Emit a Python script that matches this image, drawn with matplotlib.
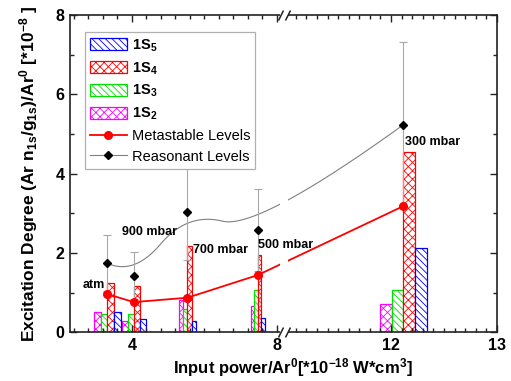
import numpy as np
import matplotlib

matplotlib.use("Agg")

import matplotlib.pyplot as plt
from matplotlib.lines import Line2D
from matplotlib.path import Path
from matplotlib.transforms import blended_transform_factory

plt.rcParams["font.family"] = ["Liberation Sans", "DejaVu Sans"]
plt.rcParams["mathtext.fontset"] = "custom"
plt.rcParams["mathtext.rm"] = "Liberation Sans"
plt.rcParams["mathtext.bf"] = "Liberation Sans:bold"
plt.rcParams["mathtext.it"] = "Liberation Sans:italic"
plt.rcParams["hatch.linewidth"] = 0.6

# values
power = [3.32, 4.055, 5.53, 7.47, 12.116]
pressure_labels = ["atm", "900 mbar", "700 mbar", "500 mbar", "300 mbar"]
s2 = [0.52, 0.28, 0.82, 0.65, 0.71]
s3 = [0.46, 0.45, 0.59, 1.07, 1.06]
s4 = [1.23, 1.17, 2.18, 1.95, 4.54]
s5 = [0.51, 0.33, 0.28, 0.35, 2.13]
metastable = [0.96, 0.76, 0.87, 1.44, 3.18]
resonant = [1.74, 1.43, 3.02, 2.58, 5.23]
resonant_err = [0.71, 0.59, 1.2, 1.03, 2.1]

# bar width of each group and where the pressure notes sit
group_widths = [0.185, 0.16, 0.12, 0.095, 0.11]
label_pos = [(2.65, 1.19), (3.72, 2.53), (5.68, 2.07), (7.48, 2.2), (12.13, 4.8)]

# broken x axis: 8.2 .. 11 squeezed out, right part stretched
BREAK_LO, BREAK_HI = 8.2, 11.0
GAP = 0.028
RIGHT_K = 2.924


def fwd(x):
    x = np.asarray(x, dtype=float)
    mid = BREAK_LO + (x - BREAK_LO) * GAP / (BREAK_HI - BREAK_LO)
    right = BREAK_LO + GAP + (x - BREAK_HI) * RIGHT_K
    return np.where(x <= BREAK_LO, x, np.where(x < BREAK_HI, mid, right))


def inv(u):
    u = np.asarray(u, dtype=float)
    mid = BREAK_LO + (u - BREAK_LO) * (BREAK_HI - BREAK_LO) / GAP
    right = BREAK_HI + (u - BREAK_LO - GAP) / RIGHT_K
    return np.where(u <= BREAK_LO, u, np.where(u < BREAK_LO + GAP, mid, right))


def bspline(px, py, n=300, deg=2):
    pts = np.column_stack([px, py])
    m = len(pts)
    knots = np.concatenate([np.zeros(deg), np.linspace(0, 1, m - deg + 1), np.ones(deg)])
    out = []
    for tv in np.linspace(0, 1, n):
        k = min(np.searchsorted(knots, tv, side="right") - 1, m - 1)
        d = [pts[j + k - deg].copy() for j in range(deg + 1)]
        for r in range(1, deg + 1):
            for j in range(deg, r - 1, -1):
                i = j + k - deg
                alpha = (tv - knots[i]) / (knots[i + deg + 1 - r] - knots[i])
                d[j] = (1 - alpha) * d[j - 1] + alpha * d[j]
        out.append(d[deg])
    return np.array(out)


fig = plt.figure(figsize=(5.11, 3.81), dpi=100)
ax = fig.add_axes([0.137, 0.128, 0.8356, 0.8328])
ax.set_xscale("function", functions=(fwd, inv))
ax.set_xlim(2.29, 13)
ax.set_ylim(0, 8)

series = [
    ("1S$_2$", s2, "#ff00ff", "xxxx"),
    ("1S$_3$", s3, "#00e000", "\\\\\\\\\\"),
    ("1S$_4$", s4, "#ff0000", "xxxx"),
    ("1S$_5$", s5, "#0000ff", "\\\\\\\\\\"),
]
bar_handles = {}
x_arr = np.array(power)
w_arr = np.array(group_widths)
for idx, (name, values, color, hatch) in enumerate(series):
    cont = ax.bar(
        x_arr + (idx - 1.5) * w_arr,
        values,
        width=w_arr,
        facecolor="white",
        edgecolor=color,
        hatch=hatch,
        linewidth=0.9,
        zorder=1,
    )
    bar_handles[name] = cont

# resonant levels: smooth B-spline through the points in axis position space
curve = bspline(fwd(power), resonant)
ax.plot(inv(curve[:, 0]), curve[:, 1], color="#808080", lw=0.8, zorder=2)
ax.errorbar(
    power, resonant, yerr=resonant_err, fmt="none",
    ecolor="#a8a8a8", elinewidth=0.8, capsize=3, capthick=0.8, zorder=2,
)
ax.plot(power, resonant, "D", color="black", ms=4.5, zorder=2.3)
ax.plot(power, metastable, "-o", color="#ff0000", lw=1.3, ms=5.5, zorder=2.3)

# white strip hides the lines where the axis is broken
gap_lo = float(inv(fwd(BREAK_LO) - 0.1))
gap_hi = float(inv(fwd(BREAK_LO) + GAP + 0.08))
ax.axvspan(gap_lo, gap_hi, color="white", lw=0, zorder=2.4)

for (tx, ty), text in zip(label_pos, pressure_labels):
    ax.text(tx, ty, text, fontsize=9, fontweight="bold", ha="left", va="center", zorder=3)

# break marks on the top and bottom spines
trans = blended_transform_factory(ax.transData, ax.transAxes)
bx = BREAK_LO + GAP / 2
blank = Path([(-4, -1.2), (4, -1.2), (4, 1.2), (-4, 1.2), (-4, -1.2)])
slashes = Path(
    [(-6, -5), (-1, 5), (1, -5), (6, 5)],
    [Path.MOVETO, Path.LINETO, Path.MOVETO, Path.LINETO],
)
ax.plot([bx, bx], [0, 1], transform=trans, ls="none", marker=blank, ms=5.8,
        mfc="white", mew=0, clip_on=False, zorder=6)
ax.plot([bx, bx], [0, 1], transform=trans, ls="none", marker=slashes, ms=8.6,
        mfc="none", mec="#222222", mew=1.1, clip_on=False, zorder=7)

ax.set_xticks([4, 8, 12, 13])
minor_left = [v for v in np.arange(2.4, 8.21, 0.4) if abs(v - 4) > 0.01 and abs(v - 8) > 0.01]
minor_right = [v for v in np.arange(11.0, 13.0, 0.1) if abs(v - 12) > 0.01]
ax.set_xticks(minor_left + minor_right, minor=True)
ax.set_xticklabels(["4", "8", "12", "13"])
ax.set_yticks([0, 2, 4, 6, 8])
ax.set_yticks([1, 3, 5, 7], minor=True)
ax.tick_params(which="both", direction="in", top=True, right=True, width=1, color="#222222")
ax.tick_params(which="major", length=5, labelsize=11.5, pad=4)
ax.tick_params(which="minor", length=3)
for lab in ax.get_xticklabels() + ax.get_yticklabels():
    lab.set_fontweight("bold")
for spine in ax.spines.values():
    spine.set_linewidth(1.2)
    spine.set_color("#222222")

ax.set_xlabel(
    r"Input power/Ar$^{\mathbf{0}}$[*10$^{\mathbf{-18}}$ W*cm$^{\mathbf{3}}$]",
    fontsize=12, fontweight="bold",
)
ax.set_ylabel(
    r"Excitation Degree (Ar n$_{\mathbf{1s}}$/g$_{\mathbf{1s}}$)/Ar$^{\mathbf{0}}$ [*10$^{\mathbf{-8}}$ ]",
    fontsize=12.5, fontweight="bold",
)
ax.xaxis.set_label_coords(0.522, -0.076)
ax.yaxis.set_label_coords(-0.07, 0.5)

handles = [bar_handles["1S$_5$"], bar_handles["1S$_4$"], bar_handles["1S$_3$"], bar_handles["1S$_2$"]]
labels = [r"$\mathbf{1S_5}$", r"$\mathbf{1S_4}$", r"$\mathbf{1S_3}$", r"$\mathbf{1S_2}$"]
handles.append(Line2D([], [], color="#ff0000", lw=1.3, marker="o", ms=5.5))
labels.append("Metastable Levels")
handles.append(Line2D([], [], color="#808080", lw=0.8, marker="D", ms=4.5, mfc="black", mec="black"))
labels.append("Reasonant Levels")
leg = ax.legend(
    handles, labels, loc="upper left", bbox_to_anchor=(0.035, 0.946), borderaxespad=0,
    fontsize=10.5, frameon=True, fancybox=False, edgecolor="#b0b0b0", framealpha=1,
    handlelength=2.5, handleheight=0.9, handletextpad=0.35, labelspacing=0.45,
    borderpad=0.35,
)
leg.get_frame().set_linewidth(0.9)

fig.savefig("out.png", dpi=100)
